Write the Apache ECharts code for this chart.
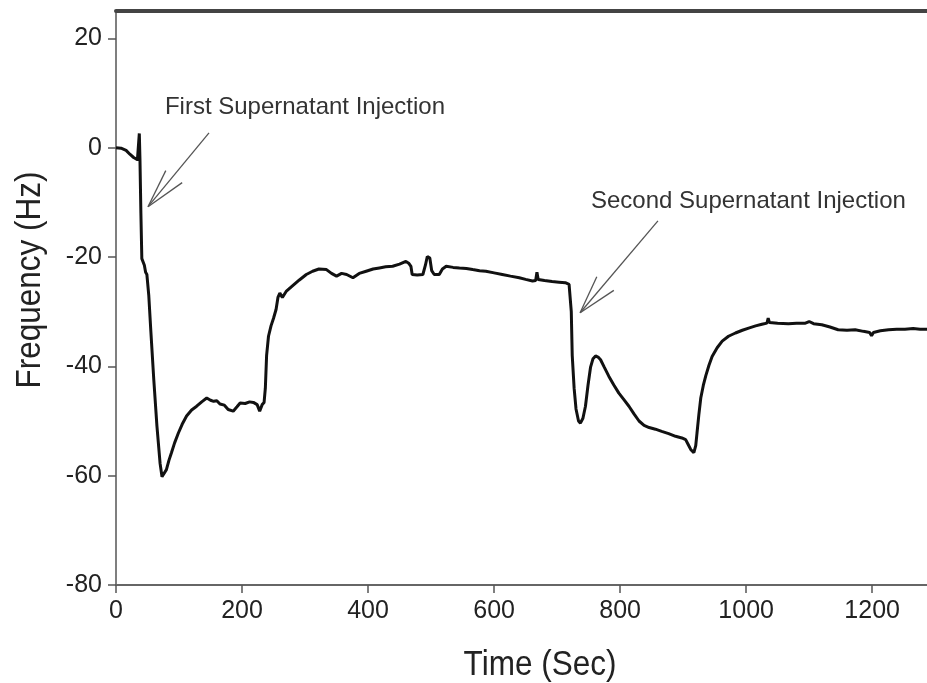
<!DOCTYPE html>
<html>
<head>
<meta charset="utf-8">
<script src="https://cdn.jsdelivr.net/npm/echarts@6/dist/echarts.min.js"></script>
<style>
  html, body { margin: 0; padding: 0; background: #fff; }
  #chart { width: 927px; height: 683px; }
</style>
</head>
<body>
<div id="chart"></div>
<script>
// time axis (s) and frequency shift (Hz)
const timeSec = [0, 8, 16, 22, 28, 34, 36.5, 37, 38, 39.5, 41, 43, 45, 47, 49, 52, 55, 60, 65, 70, 73, 76, 80, 84, 88, 93, 99, 105, 112, 120, 128, 136, 144, 150, 155, 160, 165, 172, 178, 186, 192, 197, 205, 212, 218, 224, 228, 232, 235, 237, 239, 242, 246, 250, 254, 257, 260, 264, 270, 280, 291, 302, 312, 322, 334, 342, 350, 358, 366, 376, 386, 397, 408, 418, 428, 439, 450, 460, 465, 468, 470, 478, 487, 491, 494, 498, 501, 505, 513, 518, 524, 535, 545, 556, 566, 577, 587, 600, 613, 626, 640, 650, 661, 666, 668, 670, 680, 692, 703, 713, 719, 721, 722.5, 724, 727, 730, 734, 737, 741, 745, 749, 753, 757, 761, 765, 769, 775, 782, 790, 798, 806, 814, 822, 830, 838, 846, 856, 866, 877, 888, 898, 904, 908, 912, 917, 920, 922, 925, 928, 932, 936, 941, 946, 954, 962, 972, 983, 994, 1004, 1015, 1025, 1033, 1035, 1037, 1050, 1067, 1080, 1094, 1100, 1107, 1120, 1133, 1146, 1160, 1173, 1186, 1196, 1199, 1202, 1213, 1226, 1239, 1252, 1265, 1276, 1287];
const freqHz = [0, -0.1, -0.5, -1.2, -1.8, -2.2, -2.3, 2.6, -2, -12, -20.3, -20.6, -21.5, -22.8, -23.2, -27, -33, -42.5, -51, -57.8, -60.2, -60, -58.9, -57.2, -55.8, -54, -52.2, -50.6, -49.1, -48, -47.3, -46.5, -45.8, -46.2, -46.4, -46.3, -46.9, -47.1, -47.9, -48.2, -47.4, -46.7, -46.8, -46.5, -46.6, -47, -48.2, -47, -46.6, -44, -38, -34.5, -32.6, -31.2, -29.6, -27.4, -26.6, -27.4, -26.3, -25.3, -24.2, -23.2, -22.6, -22.2, -22.3, -23, -23.5, -23, -23.2, -23.8, -23, -22.6, -22.2, -22, -21.8, -21.7, -21.3, -20.8, -21.2, -21.7, -23.2, -23.3, -23.2, -21.5, -19.9, -20.2, -22.5, -23.2, -23.2, -22.2, -21.7, -21.9, -22, -22.1, -22.3, -22.5, -22.6, -22.9, -23.2, -23.5, -23.8, -24.1, -24.4, -24.3, -22.8, -24.1, -24.3, -24.5, -24.6, -24.7, -25, -25, -30, -38, -44, -47.8, -50, -50.4, -49.5, -47.3, -43.5, -40.2, -38.6, -38.1, -38.3, -38.8, -40.2, -41.8, -43.4, -44.9, -46.1, -47.3, -48.7, -50, -50.8, -51.2, -51.5, -51.9, -52.3, -52.8, -53.1, -53.4, -54.3, -55.2, -55.8, -54.5, -52.2, -48.8, -45.8, -43.5, -41.7, -39.8, -38.2, -36.6, -35.4, -34.5, -33.9, -33.4, -33, -32.6, -32.3, -32.1, -31.2, -32, -32.1, -32.2, -32.1, -32.1, -31.8, -32.2, -32.4, -32.8, -33.3, -33.4, -33.3, -33.6, -33.8, -34.4, -33.8, -33.5, -33.3, -33.2, -33.2, -33.1, -33.2, -33.2];

const xTicks = [0, 200, 400, 600, 800, 1000, 1200];
const yTicks = [-80, -60, -40, -20, 0, 20];

// annotations: label anchor, arrow start, arrow tip, arrow-head arms (data coords)
const noteLabels = ['First Supernatant Injection', 'Second Supernatant Injection'];
const noteTextAt = [[77.6, 7.3], [753.8, -9.9]];
const noteFrom = [[147.6, 2.7], [860, -13.4]];
const noteTip = [[50.8, -10.8], [736.5, -30.2]];
const noteArmA = [[79, -4.2], [763, -23.6]];
const noteArmB = [[105, -6.4], [790, -26.1]];

const font = 'Liberation Sans, Arial, sans-serif';
const seriesData = timeSec.map((t, i) => [t, freqHz[i]]);

const chart = echarts.init(document.getElementById('chart'));
chart.setOption({
  animation: false,
  backgroundColor: '#ffffff',
  grid: { left: 116, top: 11, right: 0, bottom: 98 },
  xAxis: [
    {
      type: 'value',
      min: 0,
      max: 1287,
      interval: 200,
      splitLine: { show: false },
      axisLine: { onZero: false, lineStyle: { color: '#666', width: 2 } },
      axisTick: { length: 8, lineStyle: { color: '#555', width: 1.5 }, customValues: xTicks },
      axisLabel: { color: '#222', fontSize: 25, fontFamily: font, margin: 14, customValues: xTicks, formatter: v => String(v) }
    },
    {
      type: 'value',
      position: 'top',
      min: 0,
      max: 1287,
      splitLine: { show: false },
      axisLine: { show: true, onZero: false, lineStyle: { color: '#444', width: 4 } },
      axisTick: { show: false },
      axisLabel: { show: false }
    }
  ],
  yAxis: {
    type: 'value',
    min: -80,
    max: 25,
    interval: 20,
    splitLine: { show: false },
    axisLine: { show: true, onZero: false, lineStyle: { color: '#555', width: 1.5 } },
    axisTick: { show: true, length: 8, lineStyle: { color: '#555', width: 1.5 }, customValues: yTicks },
    axisLabel: { color: '#222', fontSize: 25, fontFamily: font, margin: 14, customValues: yTicks }
  },
  series: [{
    type: 'line',
    data: seriesData,
    showSymbol: false,
    symbol: 'none',
    lineStyle: { color: '#111', width: 3 },
    z: 3
  }]
});

// place axis titles and annotation arrows
const px = p => chart.convertToPixel({ xAxisIndex: 0, yAxisIndex: 0 }, p);
const graphics = [
  {
    type: 'text', x: 540, y: 665, scaleX: 0.9,
    style: { text: 'Time (Sec)', fill: '#222', font: '35px ' + font, textAlign: 'center', textVerticalAlign: 'middle' }
  },
  {
    type: 'text', x: 30, y: 280, rotation: Math.PI / 2, scaleX: 0.9,
    style: { text: 'Frequency (Hz)', fill: '#222', font: '35px ' + font, textAlign: 'center', textVerticalAlign: 'middle' }
  }
];
noteLabels.forEach((label, i) => {
  const t = px(noteTextAt[i]);
  graphics.push({
    type: 'text', x: t[0], y: t[1],
    style: { text: label, fill: '#333', font: '24px ' + font, textAlign: 'left', textVerticalAlign: 'middle' }
  });
  const a = px(noteFrom[i]), b = px(noteTip[i]);
  graphics.push({ type: 'line', shape: { x1: a[0], y1: a[1], x2: b[0], y2: b[1] }, style: { stroke: '#555', lineWidth: 1.3 } });
  [noteArmA[i], noteArmB[i]].forEach(arm => {
    const c = px(arm);
    graphics.push({ type: 'line', shape: { x1: b[0], y1: b[1], x2: c[0], y2: c[1] }, style: { stroke: '#555', lineWidth: 1.3 } });
  });
});
chart.setOption({ graphic: graphics });
</script>
</body>
</html>
